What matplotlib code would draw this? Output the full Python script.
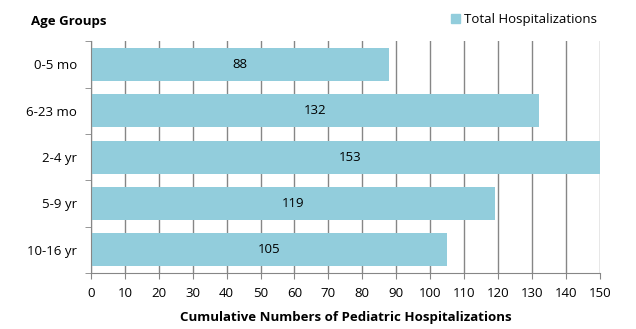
import matplotlib.pyplot as plt
import numpy as np
from matplotlib.patches import Patch

plt.rcParams['font.family'] = ['Open Sans', 'DejaVu Sans']

age_groups = ['0-5 mo', '6-23 mo', '2-4 yr', '5-9 yr', '10-16 yr']
hospitalizations = [88, 132, 153, 119, 105]
x_ticks = list(range(0, 151, 10))

bar_color = '#92CDDC'
grid_color = '#868686'

fig = plt.figure(figsize=(6.36, 3.29), dpi=100)
ax = fig.add_axes([0.143, 0.170, 0.800, 0.705])

y = np.arange(len(age_groups))
ax.barh(y, hospitalizations, height=0.71, color=bar_color, zorder=2)
for yi, val in zip(y, hospitalizations):
    ax.text(val / 2, yi, str(val), ha='center', va='center', fontsize=9.5, color='black', zorder=3)

ax.set_xlim(0, 150)
ax.set_ylim(len(age_groups) - 0.5, -0.5)
ax.set_xticks(x_ticks)
ax.set_xticklabels([str(t) for t in x_ticks], fontsize=9.5)
ax.set_yticks(y)
ax.set_yticklabels(age_groups, fontsize=9.5)
ax.tick_params(axis='y', length=0, pad=10)
ax.tick_params(axis='x', length=4, color=grid_color, pad=6)
ax.set_yticks(np.arange(-0.5, len(age_groups)), minor=True)
ax.tick_params(axis='y', which='minor', length=4, color=grid_color)

ax.grid(axis='x', color=grid_color, linewidth=1, zorder=1)
for side in ['top', 'right']:
    ax.spines[side].set_visible(False)
for side in ['left', 'bottom']:
    ax.spines[side].set_color(grid_color)

ax.set_xlabel('Cumulative Numbers of Pediatric Hospitalizations', fontsize=9.5, fontweight='bold', labelpad=8)
fig.text(0.049, 0.935, 'Age Groups', fontsize=9.5, fontweight='bold', va='center', ha='left')

fig.legend(handles=[Patch(color=bar_color, label='Total Hospitalizations')],
           loc='center right', bbox_to_anchor=(0.957, 0.940), frameon=False,
           fontsize=9.5, handlelength=0.7, handleheight=0.7, handletextpad=0.3)

fig.savefig('out.png', dpi=100)
